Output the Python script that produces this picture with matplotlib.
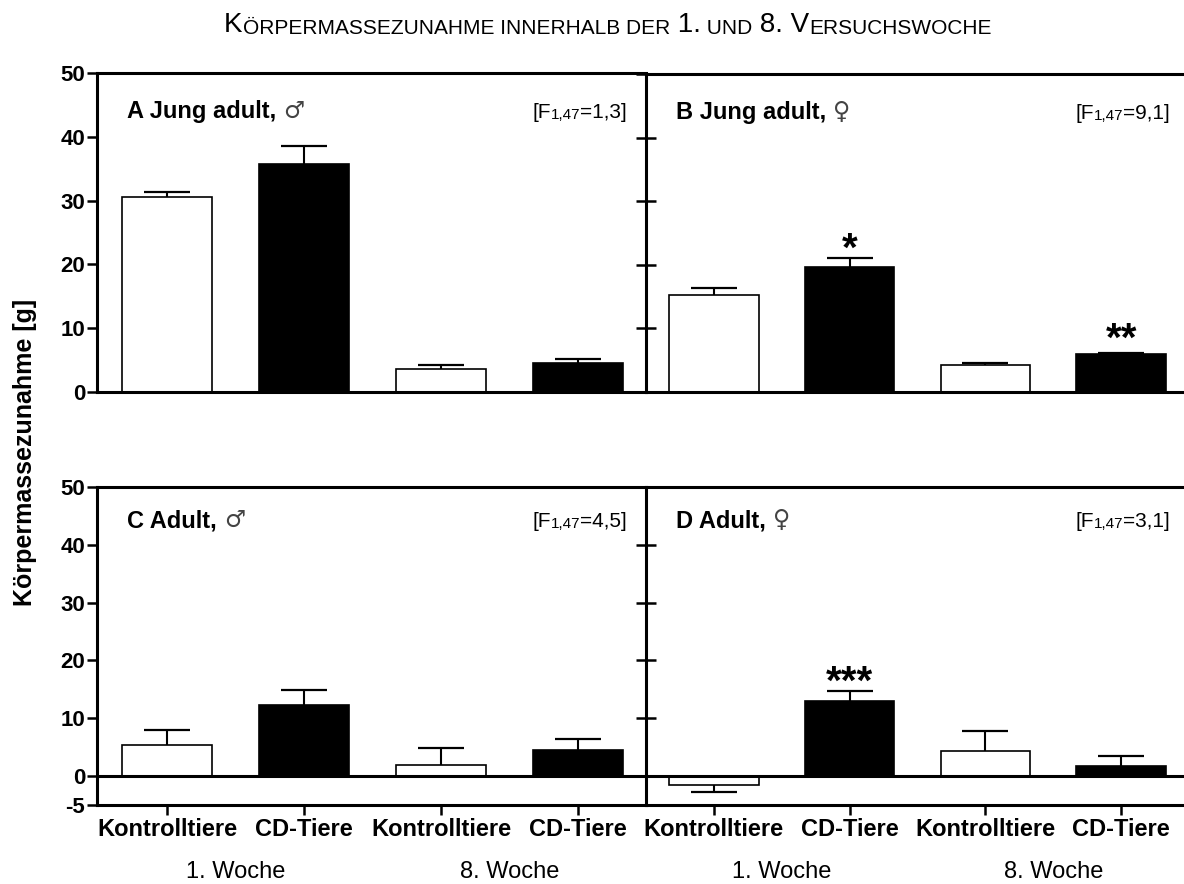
import matplotlib
matplotlib.use('Agg')
import matplotlib.pyplot as plt
from matplotlib.transforms import blended_transform_factory

# Arial-ähnliche Schrift, DejaVu für die Geschlechtssymbole
plt.rcParams['font.family'] = ['Liberation Sans', 'DejaVu Sans']
plt.rcParams['axes.unicode_minus'] = False

gruppen = ['Kontrolltiere', 'CD-Tiere', 'Kontrolltiere', 'CD-Tiere']
wochen = ['1. Woche', '8. Woche']
farben = ['white', 'black', 'white', 'black']

# Körpermassezunahme [g], Mittelwert und SEM
a_mw = [30.5, 35.8, 3.6, 4.6]
a_sem = [0.9, 2.7, 0.6, 0.6]
b_mw = [15.2, 19.7, 4.3, 6.0]
b_sem = [1.2, 1.4, 0.3, 0.2]
c_mw = [5.4, 12.3, 2.0, 4.5]
c_sem = [2.6, 2.6, 2.9, 1.9]
d_mw = [-1.6, 13.0, 4.4, 1.7]
d_sem = [1.1, 1.7, 3.4, 1.7]

titel = ['A Jung adult,', 'B Jung adult,', 'C Adult,', 'D Adult,']
symbole = ['\u2642', '\u2640', '\u2642', '\u2640']
f_werte = ['1,3', '9,1', '4,5', '3,1']
sterne_a = ['', '', '', '']
sterne_b = ['', '*', '', '**']
sterne_c = ['', '', '', '']
sterne_d = ['', '***', '', '']

W, H = 1184, 884
fig = plt.figure(figsize=(W / 100, H / 100), dpi=100)


def achse(x0, x1, y_oben, y_unten):
    return fig.add_axes([x0 / W, 1 - y_unten / H, (x1 - x0) / W, (y_unten - y_oben) / H])


ax_a = achse(97, 646, 73, 392)
ax_b = achse(646, 1189, 74, 392)
ax_c = achse(97, 646, 487, 805)
ax_d = achse(646, 1189, 487, 805)


def panel(ax, mw, sem, sterne, nr, links, unten):
    x = list(range(len(mw)))
    ax.bar(x, mw, width=0.66, color=farben, edgecolor='black', linewidth=1.2, zorder=2)
    ende = [m + s if m >= 0 else m - s for m, s in zip(mw, sem)]
    ax.vlines(x, mw, ende, color='black', linewidth=1.5, zorder=1.5)
    ax.hlines(ende, [i - 0.17 for i in x], [i + 0.17 for i in x], color='black', linewidth=1.6, zorder=1.5)
    for i, st in enumerate(sterne):
        if st:
            ax.annotate(st, xy=(i, ende[i]), xytext=(0, -2 + 3 * (len(st) == 2)), textcoords='offset points',
                        ha='center', va='baseline', fontsize=29, fontweight='bold')

    if links:
        ax.set_xlim(-0.511, 3.496)
    else:
        ax.set_xlim(-0.5, 3.5)

    if unten:
        ax.set_ylim(-5, 50)
        yt = [-5, 0, 10, 20, 30, 40, 50]
        ax.axhline(0, color='black', linewidth=2.2, zorder=3)
        ax.set_xticks(x)
        ax.set_xticklabels(gruppen, fontsize=17, fontweight='bold')
        ax.tick_params(axis='x', direction='out', length=7.2, width=1.8, pad=2.4)
        trans = blended_transform_factory(ax.transData, ax.transAxes)
        for pos, w in zip([0.5, 2.5], wochen):
            ax.annotate(w, xy=(pos, 0), xycoords=trans, xytext=(0, -52.5),
                        textcoords='offset points', ha='center', va='baseline', fontsize=17)
        titel_y = 0.874
    else:
        ax.set_ylim(0, 50)
        yt = [0, 10, 20, 30, 40, 50]
        ax.set_xticks([])
        titel_y = 0.858

    ax.set_yticks(yt)
    if links:
        ax.set_yticklabels([str(v) for v in yt], fontsize=16, fontweight='bold')
        ax.tick_params(axis='y', direction='out', length=7.5, width=1.8, pad=1)
    else:
        ax.set_yticklabels([])
        ax.tick_params(axis='y', direction='inout', length=14, width=1.8)

    for seite in ['left', 'top', 'bottom']:
        ax.spines[seite].set_linewidth(2.2)
    ax.spines['right'].set_visible(False)

    # Panelüberschrift mit Geschlechtssymbol
    t = ax.text(0.055, titel_y, titel[nr], transform=ax.transAxes, fontsize=17,
                fontweight='bold', va='baseline')
    ax.annotate(symbole[nr], xy=(1, 0), xycoords=t, xytext=(5, 0), textcoords='offset points',
                ha='left', va='bottom', fontsize=17, color='#444444', family='DejaVu Sans')

    # F-Wert rechts oben
    f3 = ax.text(0.965, titel_y, '=' + f_werte[nr] + ']', transform=ax.transAxes,
                 fontsize=15, ha='right', va='baseline')
    f2 = ax.annotate('1,47', xy=(0, 0), xycoords=f3, ha='right', va='bottom', fontsize=11)
    ax.annotate('[F', xy=(0, 0), xycoords=f2, ha='right', va='bottom', fontsize=15)


panel(ax_a, a_mw, a_sem, sterne_a, 0, True, False)
panel(ax_b, b_mw, b_sem, sterne_b, 1, False, False)
panel(ax_c, c_mw, c_sem, sterne_c, 2, True, True)
panel(ax_d, d_mw, d_sem, sterne_d, 3, False, True)

fig.text(25 / W, 1 - 452 / H, 'Körpermassezunahme [g]', rotation=90, ha='center', va='center',
         fontsize=18, fontweight='bold')

# Überschrift in Kapitälchen
teile = [('K', 20), ('ÖRPERMASSEZUNAHME INNERHALB DER', 15), (' 1.', 20), (' UND', 15),
         (' 8. V', 20), ('ERSUCHSWOCHE', 15)]
erste = fig.text(0, 1 - 32 / H, teile[0][0], fontsize=teile[0][1], va='baseline')
vorher = erste
for txt, gr in teile[1:]:
    vorher = ax_a.annotate(txt, xy=(1, 0), xycoords=vorher, ha='left', va='bottom',
                           fontsize=gr, annotation_clip=False)

fig.canvas.draw()
r = fig.canvas.get_renderer()
breite = vorher.get_window_extent(r).x1 - erste.get_window_extent(r).x0
erste.set_x((608 - breite / 2) / W)

fig.savefig('out.png', dpi=100)
